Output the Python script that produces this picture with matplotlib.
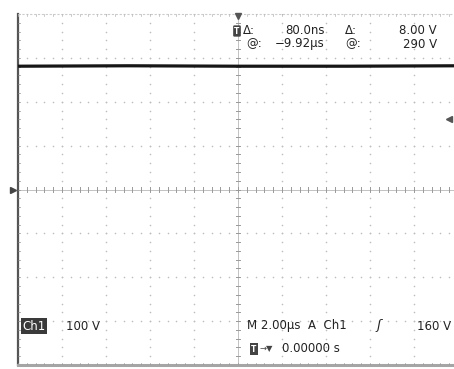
import numpy as np
import matplotlib.pyplot as plt

# scope settings
volts_per_div = 100      # Ch1 scale, V/div
time_per_div = 2.0       # horizontal scale, us/div
trig_level = 160         # V
trace_t = [-10.0, -5.0, 0.0, 5.0, 10.0]        # us
trace_v = [281, 282, 281, 281, 282]            # V, Ch1 level
cursor_text = [["\u0394:", "80.0ns", "\u0394:", "8.00 V"],
               ["@:", "\u22129.92\u00b5s", "@:", "290 V"]]

W, H = 454, 369
fig = plt.figure(figsize=(W / 100, H / 100), dpi=100)
fig.patch.set_facecolor("white")

def px(x, y):
    return x / W, 1 - y / H

nx, ny = 10, 8
ax = fig.add_axes([18 / W, 4 / H, 440 / W, 351 / H])
xmax = nx / 2 * time_per_div
ymax = ny / 2 * volts_per_div
ax.set_xlim(-xmax, xmax)
ax.set_ylim(-ymax, ymax)
ax.axis("off")

gc = "#bdbdbd"
dx = time_per_div / 5
dy = volts_per_div / 5
xs_fine = np.arange(-xmax, xmax + 1e-9, dx)
ys_fine = np.arange(-ymax, ymax + 1e-9, dy)

# dotted graticule
for k in range(1, nx):
    x = -xmax + k * time_per_div
    if abs(x) < 1e-9:
        continue
    ax.scatter(np.full_like(ys_fine, x), ys_fine, s=1.3, color=gc, lw=0)
for k in range(1, ny):
    y = -ymax + k * volts_per_div
    if abs(y) < 1e-9:
        continue
    ax.scatter(xs_fine, np.full_like(xs_fine, y), s=1.3, color=gc, lw=0)

# center crosshair with minor ticks
ax.plot([-xmax, xmax], [0, 0], color="#b8b8b8", lw=0.6)
ax.plot([0, 0], [-ymax, ymax], color="#b8b8b8", lw=0.6)
for x in xs_fine:
    ax.plot([x, x], [-5, 5], color="#999999", lw=0.7)
for y in ys_fine:
    ax.plot([-0.11, 0.11], [y, y], color="#999999", lw=0.7)

# frame edges
ax.plot([-xmax, -xmax], [-ymax, ymax], color="#555555", lw=1.6, clip_on=False)
for y in ys_fine:
    ax.plot([-xmax, -xmax + 0.1], [y, y], color="#888888", lw=0.5)
ax.plot([-xmax, xmax], [ymax, ymax], color="#cccccc", lw=0.8, ls=(0, (2, 1.5)), clip_on=False)
for x in xs_fine:
    ax.plot([x, x], [ymax, ymax - 5], color="#b5b5b5", lw=0.5)
ax.plot([-xmax, xmax], [-ymax, -ymax], color="#a5a5a5", lw=2.2, clip_on=False)
for x in xs_fine:
    ax.plot([x, x], [-ymax, -ymax + 5], color="#999999", lw=0.5)

# Ch1 trace
ax.plot(trace_t, trace_v, color="#161616", lw=2.3, solid_capstyle="butt", clip_on=False)

# markers: ground level, trigger level, trigger position
ax.plot([-xmax - 0.22], [0], marker=">", ms=5, color="#444444", clip_on=False)
ax.plot([9.6], [trig_level], marker="<", ms=5, color="#555555", clip_on=False)
ax.plot([0], [ymax - 4], marker="v", ms=5, color="#555555", clip_on=False)

tc = "#222222"
fs = 8.5
# cursor readout
fig.text(*px(237, 31), "T", fontsize=5.5, color="white", ha="center", va="center",
         fontweight="bold", bbox=dict(boxstyle="round,pad=0.15", fc="#444444", ec="none"))
cols = [(243, "left"), (325, "right"), (345, "left"), (437, "right")]
for r, row in enumerate(cursor_text):
    y = 31 + r * 13
    for (x, ha), s in zip(cols, row):
        if r == 1 and x == 243:
            x = 246
        fig.text(*px(x, y), s, fontsize=fs, color=tc, ha=ha, va="center")

# bottom status lines
fig.text(*px(22, 326), "Ch1", fontsize=fs, color="white", ha="left", va="center",
         bbox=dict(boxstyle="square,pad=0.12", fc="#3a3a3a", ec="none"))
fig.text(*px(66, 326), "%d V" % volts_per_div, fontsize=fs, color=tc, ha="left", va="center")
fig.text(*px(247, 326), "M %.2f\u00b5s  A  Ch1" % time_per_div, fontsize=fs, color=tc,
         ha="left", va="center")
fig.text(*px(376, 326), "\u0283", fontsize=fs + 1, color=tc, ha="left", va="center",
         fontstyle="italic")
fig.text(*px(451, 326), "%d V" % trig_level, fontsize=fs, color=tc, ha="right", va="center")
fig.text(*px(254, 349), "T", fontsize=5.5, color="white", ha="center", va="center",
         fontweight="bold", bbox=dict(boxstyle="square,pad=0.15", fc="#444444", ec="none"))
fig.text(*px(260, 349), "\u2192\u25bc", fontsize=6, color="#444444", ha="left", va="center")
fig.text(*px(282, 349), "0.00000 s", fontsize=fs, color=tc, ha="left", va="center")

fig.savefig("out.png", dpi=100, facecolor="white")
